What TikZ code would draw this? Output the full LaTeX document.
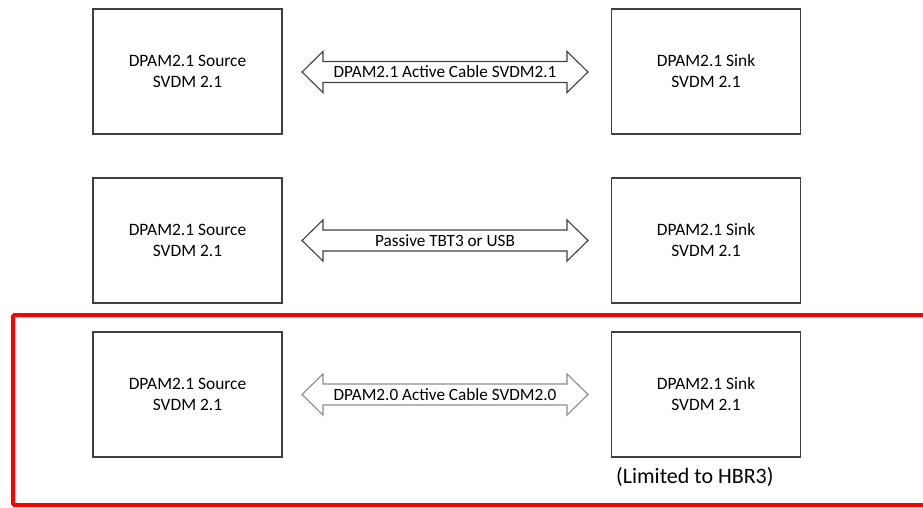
\documentclass[tikz,border=0pt]{standalone}
\usepackage{fontspec}
\setmainfont{Carlito}
\begin{document}
\begin{tikzpicture}[x=1pt,y=-1pt,
  devbox/.style={draw=black!75, line width=1.1pt, fill=white,
    minimum width=189pt, minimum height=125pt, align=center,
    font=\fontsize{17.4}{21}\selectfont, inner sep=0pt},
  cablelabel/.style={font=\fontsize{17.2}{20}\selectfont, inner sep=0pt},
  cableshape/.style={line width=1.1pt, fill=white},
  frame/.style={draw=red, line width=4pt, rounded corners=1.5pt}]
\useasboundingbox (0,0) rectangle (923,507);

% double-headed cable arrow centred at height #1, outline colour #2
\newcommand{\cablearrow}[2]{%
  \draw[cableshape, draw=#2]
    (302,#1) -- (323,#1-20.5) -- (323,#1-10.5) -- (567,#1-10.5)
    -- (567,#1-20.5) -- (588,#1) -- (567,#1+20.5) -- (567,#1+10.5)
    -- (323,#1+10.5) -- (323,#1+20.5) -- cycle;}

% row 1
\node[devbox] (src1) at (187.5,71.5) {DPAM2.1 Source\\SVDM 2.1};
\node[devbox] (snk1) at (706,71.5) {DPAM2.1 Sink\\SVDM 2.1};
\cablearrow{72}{black!75}
\node[cablelabel] (cab1) at (445,72) {DPAM2.1 Active Cable SVDM2.1};

% row 2
\node[devbox] (src2) at (187.5,240.5) {DPAM2.1 Source\\SVDM 2.1};
\node[devbox] (snk2) at (706,240.5) {DPAM2.1 Sink\\SVDM 2.1};
\cablearrow{240.5}{black!75}
\node[cablelabel] (cab2) at (445,240.5) {Passive TBT3 or USB};

% row 3 (highlighted)
\node[devbox] (src3) at (187.5,394.5) {DPAM2.1 Source\\SVDM 2.1};
\node[devbox] (snk3) at (706,394.5) {DPAM2.1 Sink\\SVDM 2.1};
\cablearrow{394.5}{black!45}
\node[cablelabel] (cab3) at (445,394.5) {DPAM2.0 Active Cable SVDM2.0};
\node[font=\fontsize{22}{24}\selectfont, inner sep=0pt, anchor=west]
  (note) at (616,477) {(Limited to HBR3)};

\draw[frame] (13,315) rectangle (935,505);
\end{tikzpicture}
\end{document}
